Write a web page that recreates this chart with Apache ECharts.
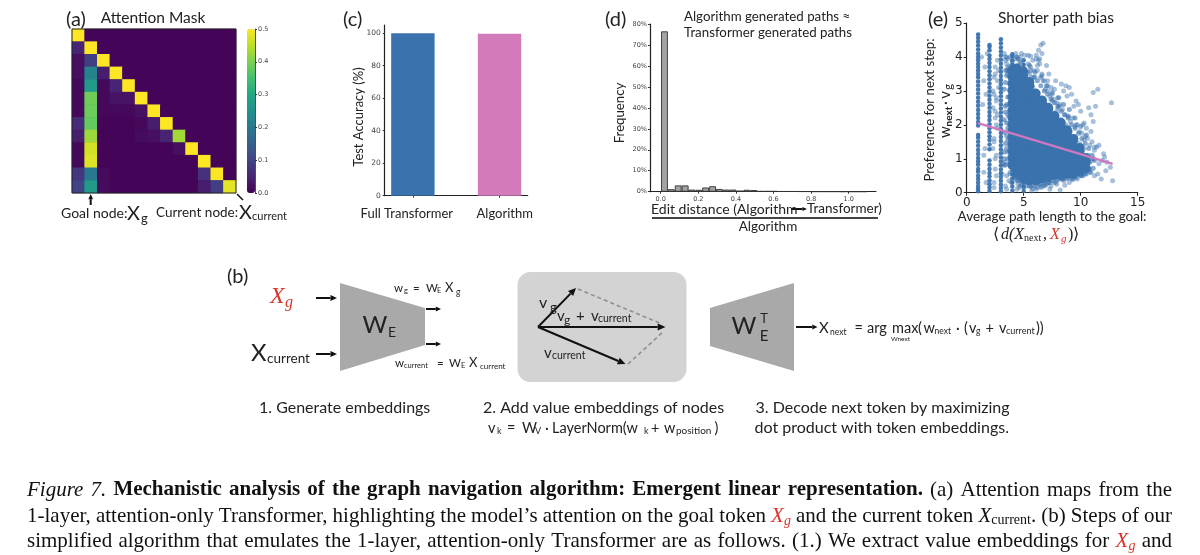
<!DOCTYPE html>
<html><head><meta charset="utf-8">
<style>html,body{margin:0;padding:0;background:#fff}#c{width:1200px;height:555px}</style>
<script src="https://cdn.jsdelivr.net/npm/echarts@6/dist/echarts.min.js"></script>
</head><body><div id="c"></div>
<script>
// ---------- (a) attention mask: rows top to bottom ----------
const maskBase = 0.006;
const maskRow00 = {0:.5};
const maskRow01 = {0:.05,1:.5};
const maskRow02 = {0:.02,1:.09,2:.5};
const maskRow03 = {0:.02,1:.22,2:.04,3:.5};
const maskRow04 = {0:.012,1:.27,2:.012,3:.05,4:.5};
const maskRow05 = {0:.012,1:.39,2:.012,3:.025,4:.025,5:.5};
const maskRow06 = {0:.012,1:.385,2:.01,3:.01,4:.01,5:.02,6:.5};
const maskRow07 = {0:.06,1:.38,5:.01,6:.04,7:.5};
const maskRow08 = {0:.04,1:.425,5:.014,6:.02,7:.05,8:.43};
const maskRow09 = {0:.012,1:.465,8:.02,9:.5};
const maskRow10 = {0:.012,1:.475,10:.5};
const maskRow11 = {0:.08,1:.2,2:.015,10:.07,11:.5};
const maskRow12 = {0:.1,1:.27,2:.015,10:.04,11:.09,12:.48};
const maskRows = [maskRow00,maskRow01,maskRow02,maskRow03,maskRow04,maskRow05,maskRow06,maskRow07,maskRow08,maskRow09,maskRow10,maskRow11,maskRow12];
const viridis = ['#440154','#482475','#414487','#355f8d','#2a788e','#21918c','#22a884','#44bf70','#7ad151','#bddf26','#fde725'];
const colorbarTicks = [0,0.1,0.2,0.3,0.4,0.5];

// ---------- (c) test accuracy ----------
const accNames = ['Full Transformer','Algorithm'];
const accValues = [100,99.6];
const accTicks = [0,20,40,60,80,100];

// ---------- (d) edit distance histogram ----------
const editBins = [0.02,0.056,0.093,0.13,0.166,0.203,0.239,0.276,0.312,0.349,0.385,0.422,0.458,0.495,0.531,0.568,0.604,0.641,0.677,0.714,0.75,0.787,0.823,0.86,0.896,0.933,0.969,1.006,1.042,1.079];
const editFreq = [76.5,1.2,3.0,3.0,1.0,0.9,2.0,2.6,1.3,1.0,1.0,0.5,0.9,0.8,0.3,0.3,0.3,0.2,0.2,0.2,0.15,0.15,0.1,0.1,0.08,0.08,0.05,0.05,0.05,0.05];
const editXTicks = [0,0.2,0.4,0.6,0.8,1.0];
const editYTicks = [0,10,20,30,40,50,60,70,80];

// ---------- (e) shorter path bias ----------
const stripe1 = [.04,.12,.2,.3,.4,.5,.62,.7,.82,.92,1.02,1.14,1.26,1.38,1.5,1.62,1.7,1.98,2.08,2.2,2.32,2.44,2.56,2.68,2.8,2.92,3.04,3.16,3.28,3.4,3.5,3.6,3.7,3.8,3.9,4.0,4.1,4.22,4.34,4.45,4.56,4.66];
const stripe2 = [.05,.15,.25,.36,.48,.58,.7,.82,.95,1.28,1.42,1.55,1.66,1.78,1.9,2.02,2.14,2.26,2.38,2.5,2.62,2.74,2.86,2.98,3.1,3.22,3.34,3.46,3.58,3.7,3.82,3.94,4.04,4.2,4.3,4.35];
const stripe3 = [.04,.14,.24,.35,.46,.57,.68,.8,.92,1.04,1.16,1.28,1.4,1.52,1.64,1.76,1.88,2.0,2.12,2.24,2.36,2.48,2.6,2.72,2.84,2.96,3.08,3.2,3.32,3.44,3.56,3.68,3.8,3.92,4.04,4.16,4.28,4.4,4.52];
const stripe4 = [.06,.18,.3,.42,.54,.66,.78,.9,1.02,1.14,1.26,1.38,1.5,1.62,1.74,1.86,1.98,2.1,2.22,2.34,2.46,2.58,2.7,2.82,2.94,3.06,3.18,3.3,3.42,3.54,3.66,3.78,3.9,4.02,4.08];
const stripe5 = [.05,.17,.29,.41,.53,.65,.77,.89,1.01,1.13,1.25,1.37,1.49,1.61,1.73,1.85,1.97,2.09,2.21,2.33,2.45,2.57,2.69,2.81,2.93,3.05,3.17,3.29,3.41,3.53,3.65,3.77,3.9];
const stripeXs = [1,2,3,4,5];
const coreXs = [4.0,4.4,4.95,5.5,6.05,6.6,7.15,7.7,8.25,8.8,9.35,9.9,10.45];
const coreYs = [
 [.82,1.02,1.22,1.42,1.62,1.82,2.02,2.22,2.42,2.62,2.82,3.02,3.22,3.42,3.6],
 [.56,.76,.96,1.16,1.36,1.56,1.76,1.96,2.16,2.36,2.56,2.76,2.96,3.16,3.36,3.56,3.66],
 [.42,.62,.82,1.02,1.22,1.42,1.62,1.82,2.02,2.22,2.42,2.62,2.82,3.02,3.22,3.42,3.58],
 [.36,.56,.76,.96,1.16,1.36,1.56,1.76,1.96,2.16,2.36,2.56,2.76,2.96,3.16,3.26],
 [.36,.56,.76,.96,1.16,1.36,1.56,1.76,1.96,2.16,2.36,2.56,2.76,2.92],
 [.42,.62,.82,1.02,1.22,1.42,1.62,1.82,2.02,2.22,2.42,2.62,2.72],
 [.46,.66,.86,1.06,1.26,1.46,1.66,1.86,2.06,2.26,2.46,2.5],
 [.52,.72,.92,1.12,1.32,1.52,1.72,1.92,2.12,2.26],
 [.52,.72,.92,1.12,1.32,1.52,1.72,1.92,2.06],
 [.56,.76,.96,1.16,1.36,1.56,1.76,1.84],
 [.56,.76,.96,1.16,1.36,1.56,1.58],
 [.62,.82,1.02,1.22,1.32],
 [.72,.92,1.02]];
const edgeX = [5.3,5.6,5.9,6.2,6.5,6.8,7.1,7.4,7.7,8.0,8.3,8.6,8.9,9.2,9.5,9.8,10.1,10.4,10.7,11,11.2,5.5,6.0,6.5,7.0,7.5,8.0,8.5,9.0,9.5,10,10.5,4.5,4.8,5.2,5.6,6,6.4,6.8,7.2,7.6,8,8.4,8.8,9.2,9.6,10,10.4,10.8,11.1,10.8,11.1,3.3,3.4,3.5,3.6,3.3,3.4,3.5,3.6,3.3,3.4,3.5,3.6,3.3,3.4,3.5,3.6,3.3,3.5,3.6,3.4];
const edgeY = [3.55,3.6,3.4,3.3,3.15,3.0,2.9,2.75,2.65,2.55,2.4,2.3,2.2,2.0,1.9,1.75,1.6,1.45,1.3,1.1,.95,3.75,3.55,3.4,3.15,2.95,2.8,2.6,2.45,2.2,1.95,1.7,.35,.25,.2,.18,.2,.25,.28,.3,.35,.38,.4,.42,.42,.45,.5,.55,.6,.72,.9,1.0,1.2,1.45,1.68,1.9,2.15,2.38,2.6,2.82,3.05,3.25,3.45,3.6,1.0,.82,1.3,1.55,1.78,2.05,2.3,2.55];
const fringeX = [1.5,1.6,1.4,1.7,1.5,1.6,1.8,1.3,1.5,1.7,2.4,2.5,2.6,2.4,2.7,2.5,2.3,2.6,2.8,2.4,2.5,2.7,2.3,2.6,2.5,2.4,2.7,2.6,2.8,2.5,2.4,2.3,2.6,2.7,2.5,2.4,3.4,3.5,3.3,3.6,3.7,3.4,3.5,3.6,3.8,3.3,3.5,3.4,3.7,3.6,3.5,3.8,3.9,3.4,3.6,4.4,4.5,4.3,4.6,4.7,4.4,4.6,4.8,4.3,4.5,4.7,4.4,4.6,4.2,4.5,5.4,5.6,5.8,5.5,5.7,5.9,6.1,6.3,6.5,6.7,6.4,6.2,6.0,5.8,6.6,6.8,7.0,7.2,7.4,7.1,6.9,7.3,7.5,7.7,6.6,6.4,6.2,7.9,8.1,8.3,8.5,8.7,7.8,8.0,8.2,8.4,8.6,8.8,9.0,9.2,9.4,9.6,9.8,10.0,8.9,9.1,9.3,9.5,9.7,9.9,10.1,10.3,10.5,10.7,10.9,11.1,11.3,11.5,10.2,10.4,10.6,10.8,11.0,11.2,11.4,10.3,10.6,10.9,11.2,11.6,11.9,12.1,12.3,12.6,12.2,11.8,11.5,10.9,11.1,12.7,12.8,5.3,5.5,5.8,6.2,6.6,7.0,7.4,7.8,8.2,8.6,9.0,5.2,5.7,6.1,6.5,6.9,7.3,7.7,8.1,8.5,8.9,9.3,9.7,10.1,10.5,5.6,6.0,6.4,6.8,7.2,7.6,8.0,8.4,8.8,9.2,9.6,10.0,10.4,10.8,5.9,6.3,6.7,7.1,7.5,7.9,8.3,8.7,9.1,9.5,9.9,10.3,10.7,11.1,3.2,3.6,4.0,4.4,4.8,5.4,3.4,3.8,4.2,4.6,5.2,5.7,6.2,6.8,7.3,7.9,8.5,9.3,10.2,3.1,3.5,3.9,4.3,4.7,5.1,5.6,6.1,6.6,7.1,7.6,8.1,8.9,9.6,10.3,11.2,11.6,12.0];
const fringeY = [1.1,1.3,2.6,2.9,3.3,3.7,4.1,4.0,.6,.3,.3,.7,1.1,1.6,1.9,2.2,2.5,2.8,3.1,3.4,3.7,3.9,1.3,2.0,2.4,2.9,3.3,.5,3.6,1.0,1.5,3.0,2.7,2.3,3.5,.15,.2,.5,.8,1.0,.35,3.6,3.8,3.95,4.0,4.1,4.0,3.9,3.7,3.5,.1,.6,.3,.9,1.2,.1,.25,.4,.55,.2,4.0,3.9,3.8,3.95,3.75,3.85,.35,.15,.5,3.95,3.8,3.7,3.9,3.5,3.4,3.6,4.05,4.2,4.35,4.4,3.8,3.6,3.4,3.1,3.5,3.3,3.75,3.5,3.1,3.3,3.05,2.85,2.9,3.05,4.1,3.95,3.75,2.65,2.8,3.2,3.0,3.15,3.3,2.5,2.6,2.45,2.3,2.85,3.1,2.9,2.55,2.7,2.6,2.4,2.25,2.1,2.2,1.95,2.0,1.8,1.75,2.05,1.9,2.5,2.3,2.95,2.55,3.05,2.0,1.65,1.6,1.4,1.5,1.25,1.35,1.1,.75,.6,.5,.85,.95,1.05,.9,.75,.65,.4,.55,1.8,2.1,2.65,.35,.3,.2,.12,.3,.18,.25,.2,.3,.08,.22,.3,.35,.05,.1,.15,.22,.1,.3,.4,.35,.45,.38,.4,.5,.55,.6,.3,.25,.35,.3,.45,.5,.42,.55,.5,.55,.6,.62,.7,.75,3.9,3.3,3.0,2.7,2.4,2.15,2.0,1.8,1.65,1.45,1.3,1.1,1.0,.85,3.7,3.85,4.0,4.1,4.05,4.0,.55,.45,.4,.35,.2,.15,.2,.3,.25,.4,.42,.5,.55,3.6,3.75,4.1,4.0,4.05,4.02,3.95,3.45,3.15,2.75,2.55,2.25,2.0,1.55,1.35,1.4,1.15,.85];
const fitX = [1,12.8];
const fitY = [2.05,0.85];
const axisTicksX = [0,5,10,15];
const axisTicksY = [0,1,2,3,4,5];

// ---------- build marks ----------
const heatData = [];
maskRows.forEach((row,r)=>{ for(let c=0;c<13;c++){ heatData.push([c,r,row[c]!==undefined?row[c]:maskBase]); } });
const cellNames = Array.from({length:13},(_,i)=>String(i));
const stripes = [stripe1,stripe2,stripe3,stripe4,stripe5];
const stripeData = [];
stripes.forEach((ys,i)=>ys.forEach(y=>stripeData.push([stripeXs[i],y])));
const coreData = [];
coreYs.forEach((ys,i)=>ys.forEach(y=>coreData.push([coreXs[i],y])));
const fringeData = fringeX.map((x,i)=>[x,fringeY[i]]);
const edgeData = edgeX.map((x,i)=>[x,edgeY[i]]);

// ---------- annotation helpers ----------
const SANS='Lato, "Open Sans", sans-serif';
const SERIF='"Liberation Serif", serif';
const g=[];
function T(x,y,text,size,o){o=o||{};
 g.push({type:'text',x:x,y:y,rotation:o.rot||0,silent:true,z:50,style:{text:text,fill:o.fill||'#222',textAlign:o.align||'left',textVerticalAlign:'middle',
 fontFamily:o.family||SANS,fontSize:size,fontStyle:o.style||'normal',fontWeight:o.weight||'normal'}});}
function L(pts,w,o){o=o||{};g.push({type:'polyline',silent:true,z:40,shape:{points:pts},style:{stroke:o.color||'#111',lineWidth:w,lineDash:o.dash||null,fill:null}});}
function P(pts,c,z){g.push({type:'polygon',silent:true,z:z||10,shape:{points:pts},style:{fill:c}});}
function A(x1,y1,x2,y2,w,h,color){const a=Math.atan2(y2-y1,x2-x1),c=Math.cos(a),s=Math.sin(a);
 const bx=x2-c*h*1.3,by=y2-s*h*1.3; L([[x1,y1],[bx,by]],w,{color:color});
 P([[x2,y2],[bx-s*h*.6,by+c*h*.6],[bx+s*h*.6,by-c*h*.6]],color||'#111',41);}

// panel labels
T(66,20,'(a)',20);T(343,20,'(c)',20);T(605,20,'(d)',20);T(928,20,'(e)',20);T(227,277,'(b)',20);
// (a) notes
T(153,18,'Attention Mask',15.5,{align:'center'});
g.push({type:'rect',silent:true,z:30,shape:{x:72,y:29,width:164,height:164},style:{fill:null,stroke:'#222',lineWidth:1}});
A(90.7,205,90.7,194,2,4);
T(61,213,'Goal node:',14);T(127,214,'X',20);T(141,219,'g',13);
T(156,213,'Current node:',13.5);T(239,213,'X',20);T(252,216,'current',11);
L([[237,194],[243,200]],1.5);
// (c) notes
T(359,117,'Test Accuracy (%)',13,{align:'center',rot:Math.PI/2});
// (d) notes
T(684,17,'Algorithm generated paths ≈',13.3);T(684,33,'Transformer generated paths',13.3);
T(620,113,'Frequency',13.2,{align:'center',rot:Math.PI/2});
T(651,209,'Edit distance (Algorithm',14);A(791,209,807,209,2,3.5);T(807,209,'Transformer)',13.5);
L([[652,218],[878,218]],2,{color:'#444'});
T(768,227,'Algorithm',13.5,{align:'center'});
// (e) notes
T(1056,18,'Shorter path bias',15.5,{align:'center'});
T(930,110,'Preference for next step:',13.2,{align:'center',rot:Math.PI/2});
T(945,132,'w',15,{align:'center',rot:Math.PI/2});T(949,116.5,'next',10,{align:'center',rot:Math.PI/2,weight:'bold'});
T(945,103,'·',15,{align:'center',rot:Math.PI/2});T(945,95,'v',15,{align:'center',rot:Math.PI/2});T(948,87,'g',11,{align:'center',rot:Math.PI/2});
T(1052,217,'Average path length to the goal:',13.5,{align:'center'});
T(993,235,'⟨',16,{family:SERIF});T(1001,235,'d(X',16,{family:SERIF,style:'italic'});T(1024,238,'next',10,{family:SERIF});
T(1043,235,',',16,{family:SERIF});T(1050,235,'X',16,{family:SERIF,style:'italic',fill:'#d9352b'});T(1061,239,'g',11,{family:SERIF,style:'italic',fill:'#d9352b'});
T(1068,235,')⟩',16,{family:SERIF});
// (b) step 1
T(270,297,'X',24,{family:SERIF,style:'italic',fill:'#d9352b'});T(285,303,'g',16,{family:SERIF,style:'italic',fill:'#d9352b'});
A(316,298,337,298,2,5);
P([[340,283],[425,308],[425,345],[340,371]],'#a9a9a9');
T(375,325,'W',24,{align:'center'});T(392,332,'E',14,{align:'center'});
A(426,309,441,309,2,4);A(426,344,441,344,2,4);
T(394,288,'w',11.5);T(404,291,'g',7.5);T(413,288,'=',11.5);T(426,288,'W',11.5);T(437,291,'E',7.5);T(445,288,'X',13);T(456,292,'g',8.5);
T(251,353,'X',24);T(267,359,'current',13.5);
A(316,354,337,354,2,5);
T(395,363,'w',11.5);T(404,366,'current',7.5);T(437,363,'=',11.5);T(449,363,'W',11.5);T(461,366,'E',7.5);T(469,363,'X',13);T(480,366,'current',8);
T(259,408,'1. Generate embeddings',16);
// (b) step 2
g.push({type:'rect',silent:true,z:5,shape:{x:517.5,y:272,width:169,height:110,r:13},style:{fill:'#d3d3d3'}});
L([[578,289],[662,324]],1.6,{color:'#8f8f8f',dash:[4,3]});
L([[628,364],[663,332]],1.6,{color:'#8f8f8f',dash:[4,3]});
A(538,327,576,288,2,6);A(538,327,665.5,327,2,6);A(538,327,625.5,364,2,6);
T(539,303,'v',16);T(550,308,'g',13);
T(557,316,'v',15);T(564,320,'g',12);T(576,316,'+',15);T(591,316,'v',15);T(598,319,'current',10.5);
T(544,353,'v',15);T(552,356,'current',10.5);
T(483,408,'2. Add value embeddings of nodes',16);
T(488,428,'v',14.5);T(497,431,'k',9);T(507,428,'=',14.5);T(522,428,'W',14.5);T(535,431,'V',9);T(545,428,'·',14.5);T(552,428,'LayerNorm(w',14.5);T(644,431,'k',9);T(651,428,'+',14.5);T(664,428,'w',14.5);T(676,431,'position',10);T(714.5,428,')',14.5);
// (b) step 3
P([[710,308],[794,283],[794,371],[710,346]],'#a9a9a9');
T(744,326,'W',24,{align:'center'});T(764,319,'T',13,{align:'center'});T(764,336,'E',15,{align:'center'});
A(796,327,817.5,327,2,4);
T(819,328,'X',15);T(830,332,'next',8.5);T(854.5,328,'=',14.5);T(867,328,'arg',14.5);T(892,328,'max',14.5);T(918,328,'(',14.5);T(923.6,328,'w',14.5);T(934.5,331,'next',8.5);T(956,328,'·',14.5);T(964,328,'(',14.5);T(969,328,'v',14.5);T(976,331,'g',8.5);T(985.5,328,'+',14.5);T(999,328,'v',14.5);T(1006,331,'current',9);T(1036,328,'))',14.5);
T(891,339,'Wnext',6.5);
T(755.5,408,'3. Decode next token by maximizing',16);
T(754.5,428,'dot product with token embeddings.',16);

// caption: justified between the two margins
const capLeft=27, capRight=1172, capSize=21;
const capStyles={n:{family:SERIF,fill:'#111',size:capSize},i:{family:SERIF,fill:'#111',style:'italic',size:capSize},b:{family:SERIF,fill:'#111',weight:'bold',size:capSize},
 r:{family:SERIF,fill:'#d9352b',style:'italic',size:capSize},rs:{family:SERIF,fill:'#d9352b',style:'italic',size:14,dy:5},ns:{family:SERIF,fill:'#111',size:14,dy:4}};
const mctx=document.createElement('canvas').getContext('2d');
function mw(text,s){mctx.font=(s.style||'normal')+' '+(s.weight||'normal')+' '+s.size+'px '+s.family;return mctx.measureText(text).width;}
function capLine(y,parts){
 const items=[];let nat=0,gaps=0;
 parts.forEach(([text,k])=>{const s=capStyles[k];text.split(/( )/).forEach(tok=>{if(tok==='')return;
   if(tok===' '){const w=mw(' ',capStyles.n);items.push({space:true,w});nat+=w;gaps++;}
   else{const w=mw(tok,s);items.push({tok,s,w});nat+=w;}});});
 const extra=(capRight-capLeft-nat)/gaps;let x=capLeft;
 items.forEach(it=>{if(it.space){x+=it.w+extra;}else{T(x,y+(it.s.dy||0),it.tok,it.s.size,it.s);x+=it.w;}});
}
capLine(490,[['Figure 7.','i'],[' ','n'],['Mechanistic analysis of the graph navigation algorithm: Emergent linear representation.','b'],[' (a) Attention maps from the','n']]);
capLine(516,[['1-layer, attention-only Transformer, highlighting the model’s attention on the goal token ','n'],['X','r'],['g','rs'],[' and the current token ','n'],['X','i'],['current','ns'],['. (b) Steps of our','n']]);
capLine(541,[['simplified algorithm that emulates the 1-layer, attention-only Transformer are as follows. (1.) We extract value embeddings for ','n'],['X','r'],['g','rs'],[' and','n']]);

const tickFont={fontFamily:'"DejaVu Sans"',color:'#444'};
const hideAxis={axisLine:{show:false},axisTick:{show:false},axisLabel:{show:false},splitLine:{show:false}};
const line={lineStyle:{color:'#222',width:1.2}};
const option={
 animation:false,backgroundColor:'#fff',
 grid:[
  {left:72,top:29,width:164,height:164,show:true,borderWidth:0,backgroundColor:'#45065a'},
  {left:247,top:29,width:8,height:164},
  {left:384.7,top:25,width:143,height:170.7},
  {left:650,top:24,width:226,height:167.7},
  {left:966.7,top:23,width:171,height:169.7}
 ],
 xAxis:[
  {gridIndex:0,type:'category',data:cellNames,...hideAxis},
  {gridIndex:1,type:'value',min:0,max:1,...hideAxis},
  {gridIndex:2,type:'value',min:-0.325,max:1.325,splitLine:{show:false},axisLine:{onZero:false,...line},
   axisTick:{length:2,customValues:[0,1],lineStyle:{color:'#333'}},
   axisLabel:{customValues:[-0.07,1.06],margin:12,fontFamily:'Lato',fontSize:13,color:'#222',formatter:(v)=>accNames[v<0.5?0:1]}},
  {gridIndex:3,type:'value',min:-0.057,max:1.145,splitLine:{show:false},axisLine:{onZero:false,...line},
   axisTick:{length:2,customValues:editXTicks,lineStyle:{color:'#333'}},
   axisLabel:{customValues:editXTicks,margin:4,fontSize:6.5,...tickFont,formatter:v=>v.toFixed(1)}},
  {gridIndex:4,type:'value',min:0,max:15,interval:5,splitLine:{show:false},axisLine:{...line},
   axisTick:{length:3,customValues:axisTicksX,lineStyle:{color:'#222'}},
   axisLabel:{customValues:axisTicksX,margin:4,fontSize:12,fontFamily:'"DejaVu Sans"',color:'#222'}}
 ],
 yAxis:[
  {gridIndex:0,type:'category',inverse:true,data:cellNames,...hideAxis},
  {gridIndex:1,type:'value',min:0,max:0.5,position:'right',splitLine:{show:false},axisLine:{show:true,onZero:false,lineStyle:{color:'#222',width:.8}},
   axisTick:{length:2,customValues:colorbarTicks,lineStyle:{color:'#333'}},
   axisLabel:{customValues:colorbarTicks,margin:3,fontSize:6.5,...tickFont,formatter:v=>v.toFixed(1)}},
  {gridIndex:2,type:'value',min:0,max:105,splitLine:{show:false},axisLine:{show:true,onZero:false,...line},
   axisTick:{length:2,customValues:accTicks,lineStyle:{color:'#333'}},
   axisLabel:{customValues:accTicks,margin:4,fontSize:7.5,...tickFont}},
  {gridIndex:3,type:'value',min:0,max:80,splitLine:{show:false},axisLine:{show:true,onZero:false,...line},
   axisTick:{length:2,customValues:editYTicks,lineStyle:{color:'#333'}},
   axisLabel:{customValues:editYTicks,margin:3,fontSize:6.5,...tickFont,formatter:v=>v+'%'}},
  {gridIndex:4,type:'value',min:0,max:5,interval:1,splitLine:{show:false},axisLine:{show:true,onZero:false,...line},
   axisTick:{length:3,customValues:axisTicksY,lineStyle:{color:'#222'}},
   axisLabel:{customValues:axisTicksY,margin:4,fontSize:12,fontFamily:'"DejaVu Sans"',color:'#222'}}
 ],
 visualMap:{type:'continuous',seriesIndex:0,min:0,max:0.5,left:247,top:29,itemWidth:8,itemHeight:164,padding:0,calculable:false,
  text:null,showLabel:false,inRange:{color:viridis},textStyle:{fontSize:1,color:'transparent'}},
 graphic:{elements:g},
 series:[
  {type:'heatmap',xAxisIndex:0,yAxisIndex:0,data:heatData,itemStyle:{borderWidth:0}},
  {type:'bar',xAxisIndex:2,yAxisIndex:2,barWidth:43.4,data:[{value:[0,accValues[0]],itemStyle:{color:'#3a72ad'}},{value:[1,accValues[1]],itemStyle:{color:'#d37aba'}}]},
  {type:'bar',xAxisIndex:3,yAxisIndex:3,barWidth:6.8,data:editBins.map((x,i)=>[x,editFreq[i]]),itemStyle:{color:'#a3a3a3',borderColor:'#333',borderWidth:0.9}},
  {type:'scatter',xAxisIndex:4,yAxisIndex:4,symbolSize:5,data:fringeData,itemStyle:{color:'#3a72ad',opacity:.45}},
  {type:'scatter',xAxisIndex:4,yAxisIndex:4,symbolSize:5,data:edgeData,itemStyle:{color:'#3a72ad',opacity:.6}},
  {type:'scatter',xAxisIndex:4,yAxisIndex:4,symbolSize:10,data:coreData,itemStyle:{color:'#3a72ad',opacity:1}},
  {type:'scatter',xAxisIndex:4,yAxisIndex:4,symbolSize:4.5,data:stripeData,itemStyle:{color:'#3a72ad',opacity:.95}},
  {type:'line',xAxisIndex:4,yAxisIndex:4,showSymbol:false,z:5,data:fitX.map((x,i)=>[x,fitY[i]]),lineStyle:{color:'#cf78c0',width:2.2}}
 ]
};
const chart=echarts.init(document.getElementById('c'),null,{renderer:'canvas',width:1200,height:555});
chart.setOption(option);
</script></body></html>
